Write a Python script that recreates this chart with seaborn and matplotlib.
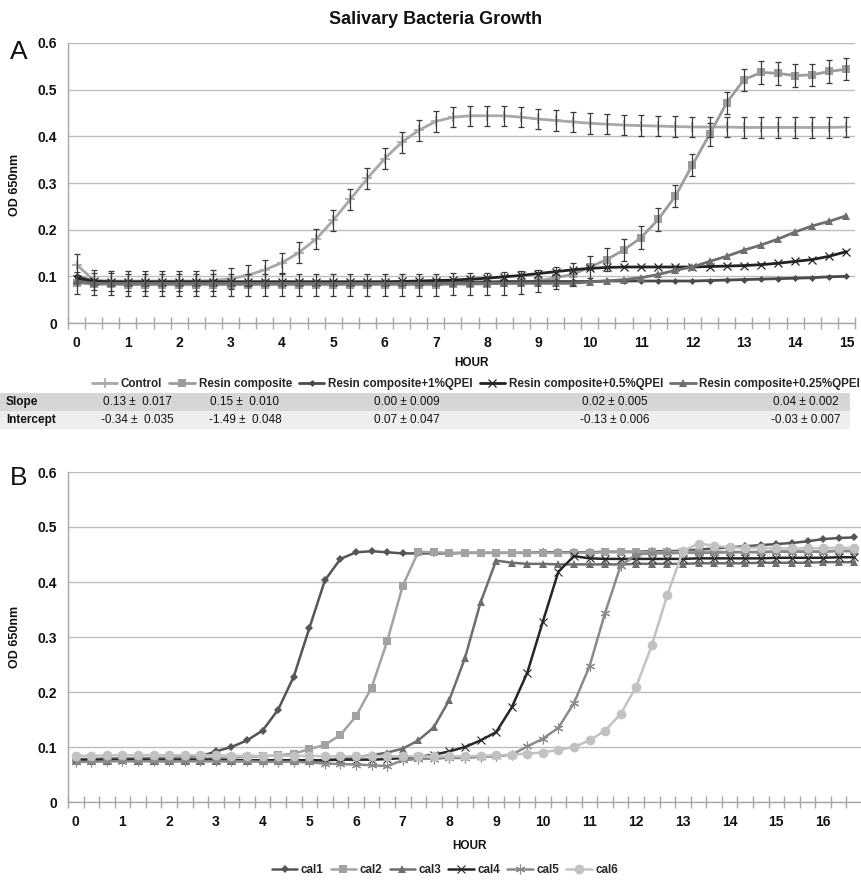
import numpy as np
import pandas as pd
import seaborn as sns
import matplotlib.pyplot as plt
from matplotlib.patches import Rectangle
from matplotlib.ticker import FixedLocator, NullFormatter

# sampling times (minutes), one reading every 20 min
minutes_a = [0, 20, 40, 60, 80, 100, 120, 140, 160, 180, 200, 220, 240, 260, 280, 300,
             320, 340, 360, 380, 400, 420, 440, 460, 480, 500, 520, 540, 560, 580, 600,
             620, 640, 660, 680, 700, 720, 740, 760, 780, 800, 820, 840, 860, 880, 900]
minutes_b = [0, 20, 40, 60, 80, 100, 120, 140, 160, 180, 200, 220, 240, 260, 280, 300,
             320, 340, 360, 380, 400, 420, 440, 460, 480, 500, 520, 540, 560, 580, 600,
             620, 640, 660, 680, 700, 720, 740, 760, 780, 800, 820, 840, 860, 880, 900,
             920, 940, 960, 980, 1000]

# panel A
control = [0.125, 0.092, 0.090, 0.090, 0.090, 0.090, 0.090, 0.090, 0.091, 0.095, 0.102, 0.114,
           0.129, 0.151, 0.180, 0.220, 0.265, 0.310, 0.352, 0.387, 0.413, 0.432, 0.441, 0.444,
           0.444, 0.444, 0.441, 0.437, 0.434, 0.431, 0.428, 0.426, 0.424, 0.423, 0.422, 0.421,
           0.420, 0.420, 0.420, 0.419, 0.419, 0.419, 0.419, 0.419, 0.419, 0.420]
resin = [0.086, 0.083, 0.083, 0.082, 0.082, 0.082, 0.082, 0.082, 0.082, 0.082, 0.082, 0.082,
         0.082, 0.082, 0.082, 0.082, 0.082, 0.082, 0.082, 0.082, 0.082, 0.082, 0.083, 0.083,
         0.084, 0.085, 0.087, 0.090, 0.097, 0.104, 0.120, 0.136, 0.157, 0.183, 0.222, 0.272,
         0.339, 0.404, 0.472, 0.521, 0.537, 0.535, 0.530, 0.532, 0.539, 0.544]
qpei_1 = [0.100, 0.090, 0.088, 0.088, 0.088, 0.088, 0.088, 0.088, 0.088, 0.088, 0.088, 0.088,
          0.088, 0.088, 0.088, 0.088, 0.088, 0.088, 0.088, 0.088, 0.088, 0.088, 0.088, 0.088,
          0.088, 0.089, 0.089, 0.089, 0.089, 0.089, 0.089, 0.090, 0.090, 0.090, 0.090, 0.090,
          0.090, 0.091, 0.092, 0.093, 0.094, 0.095, 0.096, 0.097, 0.099, 0.100]
qpei_05 = [0.095, 0.089, 0.088, 0.088, 0.088, 0.088, 0.088, 0.088, 0.088, 0.088, 0.088, 0.088,
           0.088, 0.088, 0.088, 0.088, 0.088, 0.088, 0.088, 0.089, 0.090, 0.091, 0.092, 0.094,
           0.096, 0.099, 0.102, 0.106, 0.110, 0.114, 0.117, 0.119, 0.120, 0.120, 0.120, 0.120,
           0.120, 0.121, 0.122, 0.123, 0.125, 0.128, 0.132, 0.136, 0.143, 0.153]
qpei_025 = [0.090, 0.085, 0.085, 0.085, 0.085, 0.085, 0.085, 0.085, 0.085, 0.085, 0.085, 0.085,
            0.085, 0.085, 0.085, 0.085, 0.085, 0.085, 0.085, 0.085, 0.085, 0.085, 0.085, 0.085,
            0.085, 0.085, 0.085, 0.085, 0.085, 0.085, 0.088, 0.090, 0.093, 0.097, 0.104, 0.113,
            0.120, 0.132, 0.143, 0.156, 0.167, 0.180, 0.195, 0.208, 0.218, 0.230]
control_err = 0.022
resin_err = 0.024

series_a = ["Control", "Resin composite", "Resin composite+1%QPEI",
            "Resin composite+0.5%QPEI", "Resin composite+0.25%QPEI"]
values_a = [control, resin, qpei_1, qpei_05, qpei_025]

table_rows = ["Slope", "Intercept"]
slope_txt = ["0.13 \u00b1  0.017", "0.15 \u00b1  0.010", "0.00 \u00b1 0.009",
             "0.02 \u00b1 0.005", "0.04 \u00b1 0.002"]
intercept_txt = ["-0.34 \u00b1  0.035", "-1.49 \u00b1  0.048", "0.07 \u00b1 0.047",
                 "-0.13 \u00b1 0.006", "-0.03 \u00b1 0.007"]

# panel B
cal1 = [0.078, 0.078, 0.079, 0.079, 0.079, 0.080, 0.080, 0.081, 0.083, 0.092, 0.100, 0.112,
        0.130, 0.168, 0.228, 0.316, 0.403, 0.442, 0.454, 0.456, 0.454, 0.452, 0.452, 0.452,
        0.452, 0.453, 0.453, 0.453, 0.453, 0.453, 0.454, 0.454, 0.454, 0.454, 0.455, 0.455,
        0.455, 0.456, 0.456, 0.457, 0.459, 0.461, 0.463, 0.465, 0.467, 0.469, 0.471, 0.474,
        0.478, 0.480, 0.481]
cal2 = [0.078, 0.078, 0.078, 0.078, 0.078, 0.079, 0.079, 0.079, 0.080, 0.080, 0.081, 0.082,
        0.083, 0.085, 0.088, 0.096, 0.104, 0.122, 0.156, 0.208, 0.292, 0.393, 0.455, 0.454,
        0.453, 0.453, 0.453, 0.453, 0.453, 0.453, 0.453, 0.453, 0.453, 0.453, 0.454, 0.454,
        0.454, 0.454, 0.454, 0.455, 0.455, 0.455, 0.455, 0.455, 0.455, 0.456, 0.456, 0.456,
        0.456, 0.457, 0.457]
cal3 = [0.075, 0.075, 0.075, 0.076, 0.075, 0.075, 0.074, 0.075, 0.075, 0.075, 0.074, 0.075,
        0.075, 0.075, 0.074, 0.075, 0.076, 0.078, 0.082, 0.085, 0.090, 0.097, 0.112, 0.136,
        0.186, 0.262, 0.363, 0.439, 0.435, 0.433, 0.433, 0.432, 0.432, 0.432, 0.432, 0.432,
        0.433, 0.433, 0.433, 0.433, 0.434, 0.434, 0.434, 0.434, 0.435, 0.435, 0.435, 0.435,
        0.436, 0.436, 0.436]
cal4 = [0.077, 0.077, 0.077, 0.077, 0.077, 0.077, 0.077, 0.077, 0.077, 0.077, 0.076, 0.076,
        0.076, 0.076, 0.076, 0.076, 0.076, 0.077, 0.077, 0.077, 0.078, 0.080, 0.082, 0.086,
        0.092, 0.100, 0.112, 0.127, 0.172, 0.235, 0.328, 0.419, 0.447, 0.443, 0.442, 0.442,
        0.442, 0.442, 0.442, 0.442, 0.443, 0.443, 0.443, 0.443, 0.443, 0.444, 0.444, 0.444,
        0.444, 0.445, 0.445]
cal5 = [0.073, 0.073, 0.074, 0.074, 0.074, 0.074, 0.074, 0.074, 0.074, 0.074, 0.074, 0.074,
        0.073, 0.073, 0.073, 0.072, 0.070, 0.069, 0.068, 0.067, 0.065, 0.076, 0.078, 0.079,
        0.080, 0.080, 0.082, 0.083, 0.086, 0.101, 0.115, 0.135, 0.180, 0.247, 0.344, 0.430,
        0.450, 0.452, 0.452, 0.453, 0.453, 0.453, 0.454, 0.454, 0.454, 0.455, 0.455, 0.455,
        0.455, 0.456, 0.456]
cal6 = [0.084, 0.084, 0.085, 0.085, 0.085, 0.085, 0.085, 0.085, 0.085, 0.085, 0.084, 0.084,
        0.084, 0.084, 0.084, 0.084, 0.083, 0.083, 0.083, 0.083, 0.083, 0.083, 0.083, 0.083,
        0.083, 0.083, 0.084, 0.085, 0.086, 0.088, 0.090, 0.095, 0.100, 0.112, 0.130, 0.160,
        0.210, 0.285, 0.377, 0.456, 0.470, 0.466, 0.463, 0.462, 0.462, 0.461, 0.461, 0.461,
        0.462, 0.462, 0.462]
series_b = ["cal1", "cal2", "cal3", "cal4", "cal5", "cal6"]
values_b = [cal1, cal2, cal3, cal4, cal5, cal6]

sns.set_theme(style="white")
plt.rcParams['font.family'] = ['Liberation Sans', 'DejaVu Sans']

W, H = 862, 880
fig = plt.figure(figsize=(W / 100, H / 100), dpi=100)


def fx(px):
    return px / W


def fy(py):
    return 1 - py / H


styles_a = {
    "Control": dict(color="#a8a8a8", marker="+", markersize=7, mew=1.2),
    "Resin composite": dict(color="#9c9c9c", marker="s", markersize=6, mew=0),
    "Resin composite+1%QPEI": dict(color="#4a4a4a", marker="D", markersize=3.5, mew=0),
    "Resin composite+0.5%QPEI": dict(color="#222222", marker="x", markersize=6, mew=0.9),
    "Resin composite+0.25%QPEI": dict(color="#6e6e6e", marker="^", markersize=6, mew=0),
}
styles_b = {
    "cal1": dict(color="#555555", marker="D", markersize=4, mew=0),
    "cal2": dict(color="#a2a2a2", marker="s", markersize=6, mew=0),
    "cal3": dict(color="#6e6e6e", marker="^", markersize=6, mew=0),
    "cal4": dict(color="#262626", marker="x", markersize=5.5, mew=0.8),
    "cal5": dict(color="#8a8a8a", marker=(6, 2, 0), markersize=7, mew=0.8),
    "cal6": dict(color="#c2c2c2", marker="o", markersize=7, mew=0),
}

grid_c = "#bdbdbd"
tick_font = dict(fontsize=10, fontweight="bold", color="#111111")


def style_axes(ax, n_points, last_hour):
    ax.set_ylim(0, 0.6)
    ax.set_yticks([0, 0.1, 0.2, 0.3, 0.4, 0.5, 0.6])
    ax.set_yticklabels(["0", "0.1", "0.2", "0.3", "0.4", "0.5", "0.6"], **tick_font)
    step = 1 / 3
    ax.set_xlim(-step / 2, (n_points - 1) * step + step / 2)
    hours = list(range(0, last_hour + 1))
    ax.set_xticks(hours)
    ax.set_xticklabels([str(h) for h in hours], **tick_font)
    bounds = [-step / 2 + k * step for k in range(n_points + 1)]
    ax.xaxis.set_minor_locator(FixedLocator(bounds))
    ax.xaxis.set_minor_formatter(NullFormatter())
    ax.tick_params(axis="x", which="major", length=0, pad=9)
    ax.tick_params(axis="x", which="minor", length=8, width=1, direction="inout",
                   color="#a6a6a6", bottom=True)
    ax.tick_params(axis="y", length=0, pad=8)
    ax.grid(axis="y", color=grid_c, linewidth=1)
    ax.set_axisbelow(True)
    for s in ["top", "right"]:
        ax.spines[s].set_visible(False)
    for s in ["left", "bottom"]:
        ax.spines[s].set_color("#a6a6a6")
        ax.spines[s].set_linewidth(1)
    ax.set_xlabel("")
    ax.set_ylabel("")


# ---------------- panel A ----------------
axA = fig.add_axes([fx(68), fy(323), fx(855) - fx(68), fy(43) - fy(323)])
hours_a = [m / 60 for m in minutes_a]
recs = []
for name, vals in zip(series_a, values_a):
    recs.append(pd.DataFrame({"hour": hours_a, "od": vals, "series": name}))
dfA = pd.concat(recs, ignore_index=True)

for name in series_a:
    st = styles_a[name]
    sub = dfA[dfA["series"] == name]
    sns.lineplot(data=sub, x="hour", y="od", ax=axA, color=st["color"], linewidth=2,
                 marker=st["marker"], markersize=st["markersize"],
                 markeredgewidth=st["mew"], markeredgecolor=st["color"],
                 label=name, zorder=3)
    if name == "Control":
        axA.errorbar(hours_a, control, yerr=control_err, fmt="none", ecolor="#3a3a3a",
                     elinewidth=0.9, capsize=2.5, capthick=0.9, zorder=4)
    if name == "Resin composite":
        axA.errorbar(hours_a, resin, yerr=resin_err, fmt="none", ecolor="#3a3a3a",
                     elinewidth=0.9, capsize=2.5, capthick=0.9, zorder=4)

handlesA, labelsA = axA.get_legend_handles_labels()
axA.get_legend().remove()
style_axes(axA, len(minutes_a), 15)

fig.text(0.505, fy(20), "Salivary Bacteria Growth", ha="center", va="center",
         fontsize=13, fontweight="bold", color="#111111")
fig.text(fx(10), fy(52), "A", ha="left", va="center", fontsize=19, color="#111111")
fig.text(fx(15), fy(185), "OD 650nm", rotation=90, ha="center", va="center",
         fontsize=9, fontweight="bold", color="#111111")
fig.text(fx(472), fy(363), "HOUR", ha="center", va="center", fontsize=8.5,
         fontweight="bold", color="#111111")

fig.legend(handlesA, labelsA, loc="center", bbox_to_anchor=(fx(476), fy(384)), ncol=5,
           frameon=False, prop=dict(size=8.4, weight="bold"), handlelength=2.2,
           handletextpad=0.3, columnspacing=0.6)

# table under panel A
row_y = [402, 420]
row_bg = ["#d6d6d6", "#eeeeee"]
col_x = [137, 245, 407, 615, 806]
for r, (label, texts) in enumerate(zip(table_rows, [slope_txt, intercept_txt])):
    fig.patches.append(Rectangle((fx(0), fy(row_y[r] + 9)), fx(850), 18 / H,
                                 transform=fig.transFigure, facecolor=row_bg[r],
                                 edgecolor="none", zorder=0))
    fig.text(fx(6), fy(row_y[r]), label, ha="left", va="center", fontsize=8.5,
             fontweight="bold", color="#111111")
    for cx, t in zip(col_x, texts):
        fig.text(fx(cx), fy(row_y[r]), t, ha="center", va="center", fontsize=8.5,
                 color="#111111")

# ---------------- panel B ----------------
axB = fig.add_axes([fx(68), fy(802), fx(862) - fx(68), fy(472) - fy(802)])
hours_b = [m / 60 for m in minutes_b]
recs = []
for name, vals in zip(series_b, values_b):
    recs.append(pd.DataFrame({"hour": hours_b, "od": vals, "series": name}))
dfB = pd.concat(recs, ignore_index=True)

for name in series_b:
    st = styles_b[name]
    sub = dfB[dfB["series"] == name]
    sns.lineplot(data=sub, x="hour", y="od", ax=axB, color=st["color"], linewidth=1.8,
                 marker=st["marker"], markersize=st["markersize"],
                 markeredgewidth=st["mew"], markeredgecolor=st["color"],
                 label=name, zorder=3)

handlesB, labelsB = axB.get_legend_handles_labels()
axB.get_legend().remove()
style_axes(axB, len(minutes_b), 16)

fig.text(fx(10), fy(478), "B", ha="left", va="center", fontsize=19, color="#111111")
fig.text(fx(15), fy(637), "OD 650nm", rotation=90, ha="center", va="center",
         fontsize=9, fontweight="bold", color="#111111")
fig.text(fx(470), fy(846), "HOUR", ha="center", va="center", fontsize=8.5,
         fontweight="bold", color="#111111")
fig.legend(handlesB, labelsB, loc="center", bbox_to_anchor=(fx(445), fy(870)), ncol=6,
           frameon=False, prop=dict(size=8.4, weight="bold"), handlelength=2.2,
           handletextpad=0.3, columnspacing=0.6)

fig.savefig("out.png", dpi=100)
